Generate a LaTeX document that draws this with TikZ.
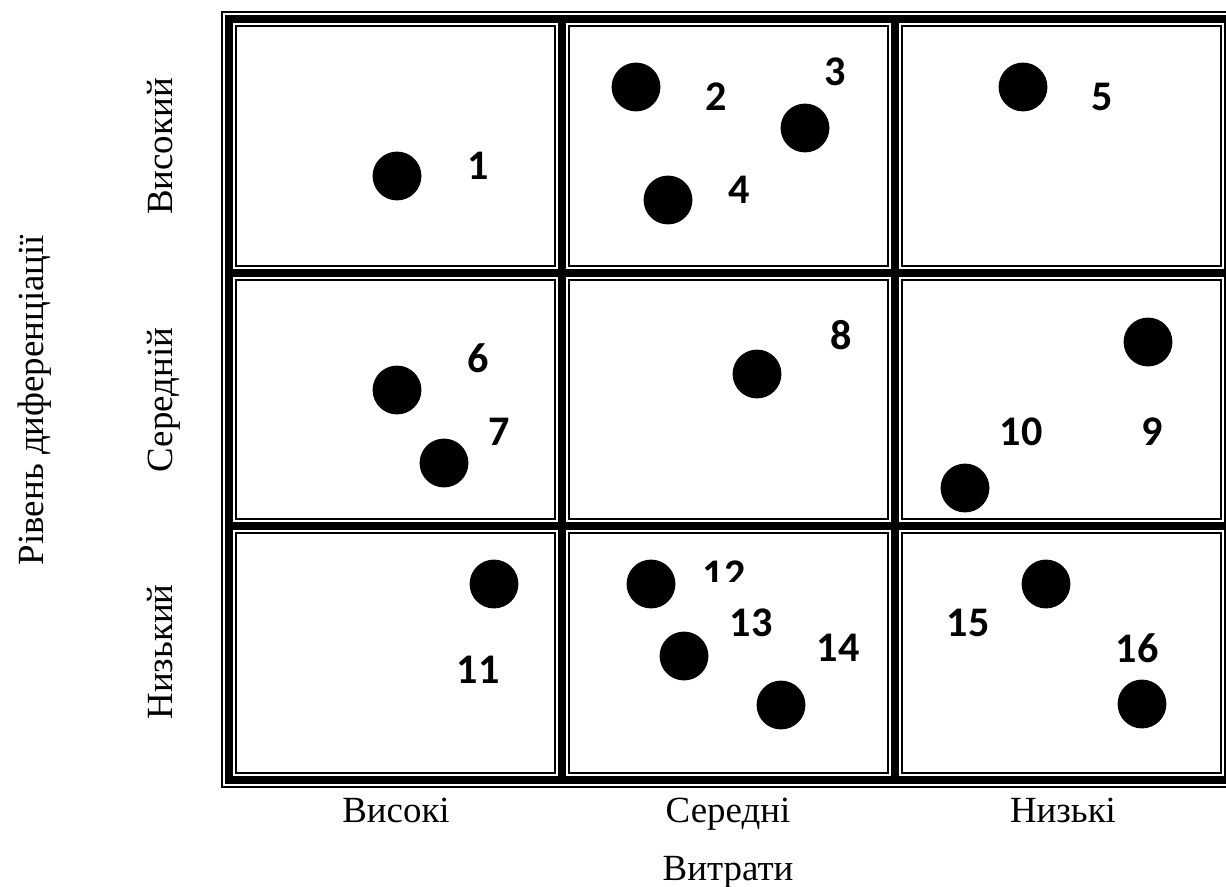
\documentclass[tikz,border=0pt]{standalone}
\usepackage{fontspec}
\setmainfont{Liberation Serif}
\newfontfamily\numfont{Carlito}

\begin{document}
\begin{tikzpicture}[
    x=0.02cm, y=-0.02cm,
    % 粗分隔带（单元之间及外框）
    gridband/.style={line width=4.6pt},
    % 单元细边框
    cellline/.style={line width=1pt},
    % 黑色圆点
    dot/.style={circle, fill=black, minimum size=27.8pt, inner sep=0pt},
    % 编号（白底文本框）
    num/.style={font=\numfont\bfseries\fontsize{24}{24}\selectfont,
        fill=white, inner xsep=13.6pt, inner ysep=15.3pt},
    % 坐标轴文字
    axislabel/.style={font=\fontsize{21}{24}\selectfont, anchor=base}
]

    % 0. 画布范围
    \useasboundingbox (0,0) rectangle (1226,886);
    \clip (0,0) rectangle (1226,886);

    % 1. 网格坐标
    \def\xA{229}  \def\xB{562}  \def\xC{895}  \def\xD{1228}
    \def\yA{19}   \def\yB{273}  \def\yC{526}  \def\yD{780}
    \def\gap{7}   % 细线与粗线中心的距离

    % 2. 编号
    \node[num] (n1)  at (478,166) {1};
    \node[num] (n2)  at (716,97)  {2};
    \node[num] (n3)  at (835,72)  {3};
    \node[num] (n4)  at (739,190) {4};
    \node[num] (n5)  at (1102,97) {5};
    \node[num] (n6)  at (478,358) {6};
    \node[num] (n7)  at (499,432) {7};
    \node[num] (n8)  at (841,335) {8};
    \node[num] (n9)  at (1152,432) {9};
    \node[num] (n10) at (1021,432) {10};
    \node[num] (n11) at (478,670) {11};
    \node[num] (n12) at (724,575) {12};
    \node[num] (n13) at (751,623) {13};
    \node[num] (n14) at (838,648) {14};
    \node[num] (n15) at (968,623) {15};
    \node[num] (n16) at (1137,648) {16};

    % 3. 圆点
    \node[dot] (d1)  at (397,176) {};
    \node[dot] (d2)  at (636,87)  {};
    \node[dot] (d3)  at (805,128) {};
    \node[dot] (d4)  at (668,200) {};
    \node[dot] (d5)  at (1023,87) {};
    \node[dot] (d6)  at (397,390) {};
    \node[dot] (d7)  at (444,463) {};
    \node[dot] (d8)  at (757,374) {};
    \node[dot] (d9)  at (1148,342) {};
    \node[dot] (d10) at (965,488) {};
    \node[dot] (d11) at (494,584) {};
    \node[dot] (d12) at (651,584) {};
    \node[dot] (d13) at (684,656) {};
    \node[dot] (d14) at (781,705) {};
    \node[dot] (d15) at (1046,584) {};
    \node[dot] (d16) at (1142,704) {};

    % 4. 外侧细线
    \draw[cellline] (1240,\yA-\gap) -- (\xA-\gap,\yA-\gap)
        -- (\xA-\gap,\yD+\gap) -- (1240,\yD+\gap);

    % 5. 粗分隔带
    \draw[gridband] (\xA,\yA) rectangle (\xD,\yD);
    \draw[gridband] (\xB,\yA) -- (\xB,\yD);
    \draw[gridband] (\xC,\yA) -- (\xC,\yD);
    \draw[gridband] (\xA,\yB) -- (\xD,\yB);
    \draw[gridband] (\xA,\yC) -- (\xD,\yC);

    % 6. 各单元细边框
    \draw[cellline] (\xA+\gap,\yA+\gap) rectangle (\xB-\gap,\yB-\gap);
    \draw[cellline] (\xB+\gap,\yA+\gap) rectangle (\xC-\gap,\yB-\gap);
    \draw[cellline] (\xC+\gap,\yA+\gap) rectangle (\xD-\gap,\yB-\gap);
    \draw[cellline] (\xA+\gap,\yB+\gap) rectangle (\xB-\gap,\yC-\gap);
    \draw[cellline] (\xB+\gap,\yB+\gap) rectangle (\xC-\gap,\yC-\gap);
    \draw[cellline] (\xC+\gap,\yB+\gap) rectangle (\xD-\gap,\yC-\gap);
    \draw[cellline] (\xA+\gap,\yC+\gap) rectangle (\xB-\gap,\yD-\gap);
    \draw[cellline] (\xB+\gap,\yC+\gap) rectangle (\xC-\gap,\yD-\gap);
    \draw[cellline] (\xC+\gap,\yC+\gap) rectangle (\xD-\gap,\yD-\gap);

    % 7. 行标题（竖排）
    \node[axislabel, rotate=90] (rowhigh) at (172,146.5) {Високий};
    \node[axislabel, rotate=90] (rowmid)  at (172,400)   {Середній};
    \node[axislabel, rotate=90] (rowlow)  at (172,652)   {Низький};
    \node[axislabel, rotate=90] (ytitle)  at (43,400)    {Рівень диференціації};

    % 8. 列标题
    \node[axislabel] (colhigh) at (396,822)  {Високі};
    \node[axislabel] (colmid)  at (728,822)  {Середні};
    \node[axislabel] (collow)  at (1063,822) {Низькі};
    \node[axislabel] (xtitle)  at (728,880)  {Витрати};

\end{tikzpicture}
\end{document}
